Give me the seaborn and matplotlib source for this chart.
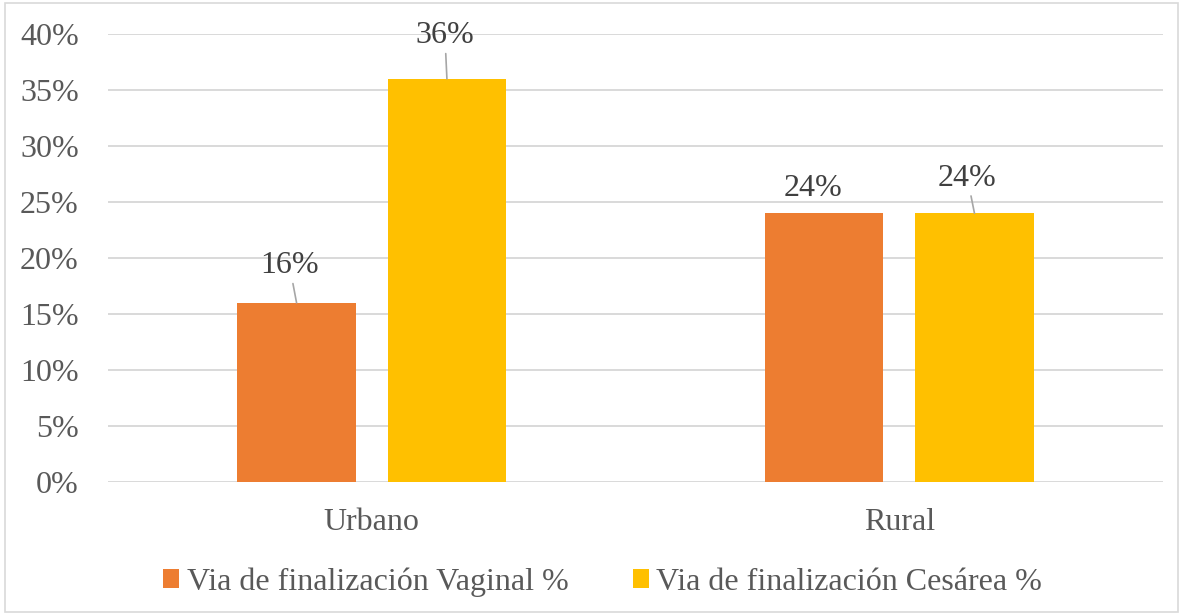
import pandas as pd
import matplotlib.pyplot as plt
import seaborn as sns
from matplotlib.ticker import PercentFormatter
from matplotlib.patches import Rectangle

# Data
zonas = ["Urbano", "Rural"]
series = ["Via de finalización Vaginal %", "Via de finalización Cesárea %"]
vaginal = [0.16, 0.24]
cesarea = [0.36, 0.24]
yticks = [0, 0.05, 0.10, 0.15, 0.20, 0.25, 0.30, 0.35, 0.40]

df = pd.DataFrame({
    "zona": zonas * 2,
    "via": [series[0]] * 2 + [series[1]] * 2,
    "valor": vaginal + cesarea,
})

sns.set_theme(style="white")
plt.rcParams["font.family"] = ["Liberation Serif", "DejaVu Serif"]

fig = plt.figure(figsize=(11.84, 6.15), dpi=100)
ax = fig.add_axes([0.0912, 0.2163, 0.8911, 0.7284])

sns.barplot(
    data=df, x="zona", y="valor", hue="via",
    palette=["#ED7D31", "#FFC000"], saturation=1,
    width=0.57, gap=0.21, linewidth=0, ax=ax,
)

handles, labels = ax.get_legend_handles_labels()
ax.get_legend().remove()

ax.set_ylim(0, 0.40)
ax.set_yticks(yticks)
ax.yaxis.set_major_formatter(PercentFormatter(1.0, decimals=0))
ax.set_xlim(-0.5, 1.5)
ax.set_xlabel("")
ax.set_ylabel("")
ax.grid(axis="y", color="#d9d9d9", linewidth=1.4)
ax.set_axisbelow(True)
for s in ax.spines.values():
    s.set_visible(False)
fs = 23
ax.tick_params(axis="y", length=0, pad=21, labelsize=fs, labelcolor="#595959")
ax.tick_params(axis="x", length=0, pad=19, labelsize=fs, labelcolor="#595959")

# data labels: bars come per series (vaginal U, R, then cesarea U, R)
offsets = [(-7, 37), (-11, 25), (-2, 43), (-7, 35)]
leader = [True, False, True, True]
bars = [p for c in ax.containers for p in c]
for bar, (dx, dy), ld in zip(bars, offsets, leader):
    x = bar.get_x() + bar.get_width() / 2
    h = bar.get_height()
    ax.annotate(
        f"{h:.0%}", xy=(x, h), xytext=(dx, dy), textcoords="offset pixels",
        ha="center", va="center", fontsize=fs, color="#404040",
        arrowprops=dict(arrowstyle="-", color="#a6a6a6", lw=1.2,
                        shrinkA=0, shrinkB=0) if ld else None,
    )

fig.legend(
    handles, labels, loc="center", bbox_to_anchor=(0.509, 0.053),
    ncol=2, frameon=False, fontsize=fs, labelcolor="#595959",
    handlelength=0.5, handleheight=0.55, handletextpad=0.25,
    columnspacing=2.0,
)

fig.patches.append(Rectangle((0.004, 0.005), 0.991, 0.99, transform=fig.transFigure,
                             fill=False, ec="#d9d9d9", lw=1.2))

fig.savefig("out.png", dpi=100)
